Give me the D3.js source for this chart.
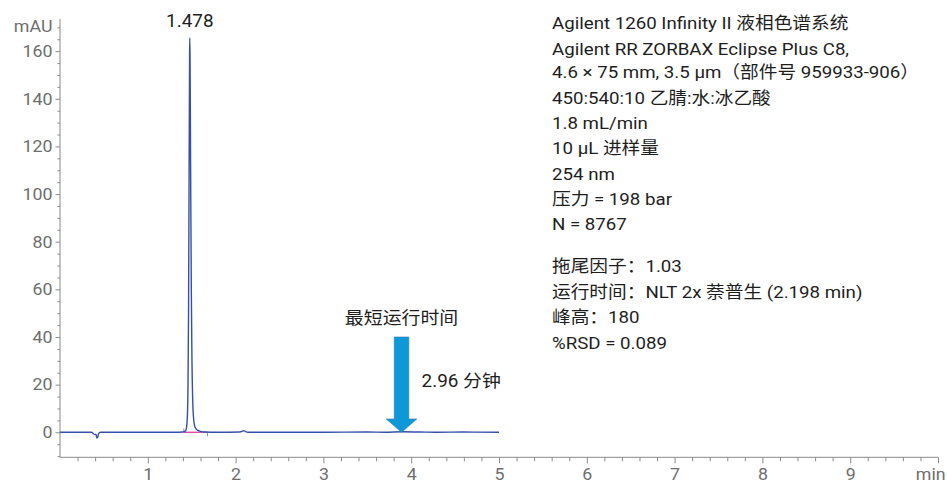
<!DOCTYPE html>
<html>
<head>
<meta charset="utf-8">
<script src="https://cdn.jsdelivr.net/npm/d3@7/dist/d3.min.js"></script>
<style>
  html, body { margin: 0; padding: 0; background: #fff; }
  svg { display: block; }
  text { font-family: Roboto, "Noto Sans CJK SC", sans-serif; }
</style>
</head>
<body>
<svg id="chart" width="947" height="483"></svg>
<script>
// Chromatogram trace: retention time (min) vs absorbance (mAU)
const traceTime = [0, 0.30, 0.36, 0.38, 0.40, 0.41, 0.42, 0.43, 0.44, 0.46, 0.50, 0.90, 1.30, 1.40, 1.43, 1.44, 1.450, 1.458, 1.464, 1.469, 1.473, 1.476, 1.478, 1.481, 1.485, 1.490, 1.496, 1.503, 1.511, 1.520, 1.532, 1.548, 1.570, 1.600, 1.650, 1.800, 2.050, 2.080, 2.095, 2.110, 2.140, 2.500, 3.000, 3.500, 3.700, 3.900, 4.100, 4.300, 4.600, 5.000];
const traceMAU  = [0, 0.0, 0.0, -0.6, -1.0, -0.8, -2.4, -2.0, -0.6, 0.0, 0.0, 0.0, 0.0, 0.1, 0.6, 1.8, 6.0, 20.0, 50.0, 95.0, 135.0, 158.0, 165.5, 158.0, 132.0, 95.0, 58.0, 30.0, 14.0, 6.5, 3.0, 1.5, 0.8, 0.4, 0.1, 0.0, 0.1, 0.5, 0.7, 0.4, 0.0, 0.0, 0.0, 0.1, 0.0, 0.2, 0.1, 0.0, 0.1, 0.0];

// Integration baseline of the main peak
const peakStart = 1.41, peakEnd = 1.68;
const peakRT = 1.478, peakApex = 165.5;

// Axis ticks
const xMajorTicks = [1, 2, 3, 4, 5, 6, 7, 8, 9, 10];
const xTickLabels = ["1", "2", "3", "4", "5", "6", "7", "8", "9", "min"];
const yMajorTicks = [0, 20, 40, 60, 80, 100, 120, 140, 160];

// Minimum run time arrow
const arrowTime = 3.89, arrowTop = 40, arrowHeadBase = 5.6;
const arrowTitle = "最短运行时间";
const arrowLabel = "2.96 分钟";

// Method conditions
const methodLines = [
  "Agilent 1260 Infinity II 液相色谱系统",
  "Agilent RR ZORBAX Eclipse Plus C8,",
  "4.6 × 75 mm, 3.5 µm（部件号 959933-906）",
  "450:540:10 乙腈:水:冰乙酸",
  "1.8 mL/min",
  "10 µL 进样量",
  "254 nm",
  "压力 = 198 bar",
  "N = 8767"
];
const resultLines = [
  "拖尾因子：1.03",
  "运行时间：NLT 2x 萘普生 (2.198 min)",
  "峰高：180",
  "%RSD = 0.089"
];

const svg = d3.select("#chart");
const axisColor = "#8a8a8a", labelColor = "#6e6e6e", textColor = "#1e1e1e";
const stretch = 1.08;   // slightly wide lettering

const x = d3.scaleLinear().domain([0, 10]).range([60, 938]);
const y = d3.scaleLinear().domain([-10.5, 173.5]).range([457.3, 19]);

// Text placed at (px, py) with horizontal widening
function label(parent, px, py, str, size, color, anchor) {
  return parent.append("text")
    .attr("transform", `translate(${px},${py}) scale(${stretch},1)`)
    .attr("text-anchor", anchor || "start")
    .attr("fill", color).attr("font-size", size).text(str);
}

// X axis (bottom)
const xAxisG = svg.append("g").attr("transform", `translate(0,${y(-10.5)})`);
xAxisG.call(d3.axisBottom(x).tickValues(d3.range(0.2, 10.001, 0.2).map(v => +v.toFixed(1)).filter(v => !xMajorTicks.includes(v))).tickSize(4).tickFormat(""));
xAxisG.call(g => g.select(".domain").remove());
const xMajG = svg.append("g").attr("transform", `translate(0,${y(-10.5)})`)
  .call(d3.axisBottom(x).tickValues(xMajorTicks).tickSize(6).tickPadding(5)
    .tickFormat((d, i) => xTickLabels[i]));
xMajG.select(".domain").attr("d", `M${x(0)},0H${x(10)}`);
xMajG.selectAll(".tick text").attr("fill", labelColor).attr("font-size", 16.5)
  .attr("font-family", "Roboto, sans-serif").attr("transform", `scale(${stretch},1)`);
xMajG.selectAll(".tick").filter(d => d === 10).select("text").attr("text-anchor", "start").attr("x", -21);

// Y axis (left)
const yMinor = d3.range(-10, 171, 5).filter(v => !yMajorTicks.includes(v));
svg.append("g").attr("transform", `translate(${x(0)},0)`)
  .call(d3.axisLeft(y).tickValues(yMinor).tickSize(2.5).tickFormat(""))
  .call(g => g.select(".domain").remove());
const yMajG = svg.append("g").attr("transform", `translate(${x(0)},0)`)
  .call(d3.axisLeft(y).tickValues(yMajorTicks).tickSize(4.5).tickPadding(3));
yMajG.select(".domain").attr("d", `M0,${y(-10.5)}V${y(173.5)}`);
yMajG.selectAll(".tick text").attr("fill", labelColor).attr("font-size", 16.5)
  .attr("font-family", "Roboto, sans-serif").attr("x", -7).attr("transform", `scale(${stretch},1)`);
svg.selectAll("g .domain, g .tick line").attr("stroke", axisColor);
label(svg, x(0) - 7.5, y(170.5) + 6, "mAU", 16.5, labelColor, "end");

// Integration baseline and markers
svg.append("line").attr("x1", x(peakStart)).attr("x2", x(peakEnd))
  .attr("y1", y(0)).attr("y2", y(0)).attr("stroke", "#e0479e").attr("stroke-width", 1.3);
svg.append("line").attr("x1", x(peakStart)).attr("x2", x(peakStart))
  .attr("y1", y(0)).attr("y2", y(0) - 4).attr("stroke", "#999").attr("stroke-width", 1);
svg.append("line").attr("x1", x(peakEnd)).attr("x2", x(peakEnd))
  .attr("y1", y(0)).attr("y2", y(0) + 4).attr("stroke", "#999").attr("stroke-width", 1);

// Trace
const line = d3.line().x(d => x(d[0])).y(d => y(d[1])).curve(d3.curveMonotoneX);
svg.append("path").datum(traceTime.map((t, i) => [t, traceMAU[i]]))
  .attr("d", line).attr("fill", "none").attr("stroke", "#3550a6").attr("stroke-width", 1.4);

// Peak label
label(svg, x(peakRT), y(peakApex) - 11, peakRT.toFixed(3), 17.5, textColor, "middle");

// Arrow
const ax = x(arrowTime), shaftHalf = 7.3, headHalf = 15.3;
const arrowPts = [
  [ax - shaftHalf, y(arrowTop)], [ax + shaftHalf, y(arrowTop)],
  [ax + shaftHalf, y(arrowHeadBase)], [ax + headHalf, y(arrowHeadBase)],
  [ax, y(0)], [ax - headHalf, y(arrowHeadBase)], [ax - shaftHalf, y(arrowHeadBase)]
];
svg.append("path").attr("d", "M" + arrowPts.map(p => p.join(",")).join("L") + "Z")
  .attr("fill", "#0d98d8").attr("stroke", "#2a7fb8").attr("stroke-width", 0.6);
label(svg, ax, y(arrowTop) - 13, arrowTitle, 17.5, textColor, "middle");
label(svg, ax + 20, y(arrowTop) + 50, arrowLabel, 17.5, textColor);

// Method text
const methodBase = [29, 55, 78, 104, 129, 154, 180, 205, 230];
methodLines.forEach((s, i) => label(svg, 552, methodBase[i], s, 17.3, textColor));
resultLines.forEach((s, i) => label(svg, 552, 272 + i * 25.7, s, 17.3, textColor));
</script>
</body>
</html>
